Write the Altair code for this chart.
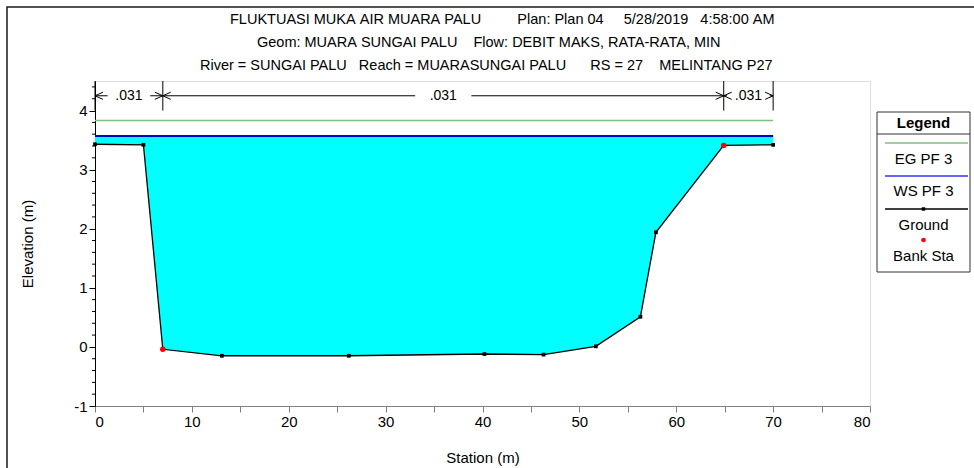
import altair as alt
import pandas as pd

# Cross-section RS 27, MELINTANG P27 (station / elevation in metres)
station = [0.0, 5.0, 7.0, 13.1, 26.2, 40.2, 46.3, 51.7, 56.3, 57.9, 64.9, 70.0]
ground = [3.43, 3.42, -0.04, -0.15, -0.15, -0.12, -0.13, 0.01, 0.51, 1.94, 3.41, 3.42]
bank_station = [7.0, 64.9]
bank_elev = [-0.04, 3.41]
ws_pf3 = 3.57   # water surface, PF 3
eg_pf3 = 3.83   # energy grade, PF 3

# Manning's n zones along the top of the section
n_breaks = [0.0, 7.0, 64.9, 70.0]
n_values = [".031", ".031", ".031"]
n_level = 4.25

title_lines = [
    "FLUKTUASI MUKA AIR MUARA PALU         Plan: Plan 04     5/28/2019   4:58:00 AM",
    "Geom: MUARA SUNGAI PALU    Flow: DEBIT MAKS, RATA-RATA, MIN",
    "River = SUNGAI PALU   Reach = MUARASUNGAI PALU      RS = 27    MELINTANG P27",
]
title_left = [135, 162, 105]   # left edge of each heading line, px from plot origin
legend_labels = ["EG PF 3", "WS PF 3", "Ground", "Bank Sta"]

FONT = "Liberation Sans"
FS = 15
W, H = 775, 325
PAD = {"left": 95, "top": 81, "right": 104, "bottom": 62}


def keep_spaces(s):
    return s.replace(" ", "\u00a0")


xs = alt.Scale(domain=[0, 80], nice=False, zero=False)
ys = alt.Scale(domain=[-1, 4.5], nice=False, zero=False)

sec = pd.DataFrame({"station": station, "ground": ground, "ws": ws_pf3})
banks = pd.DataFrame({"station": bank_station, "ground": bank_elev})
levels = pd.DataFrame({
    "x0": [station[0], station[0]], "x1": [station[-1], station[-1]],
    "y": [eg_pf3, ws_pf3], "c": ["eg", "ws"],
})
one = pd.DataFrame({"k": [0]})

x_axis = alt.Axis(
    values=list(range(0, 81, 5)),
    labelExpr="datum.value % 10 == 0 ? '' + datum.value : ''",
    tickSize=6, domainColor="#808080", tickColor="#808080",
    labelFontSize=FS, labelFont=FONT, labelColor="black", labelPadding=2,
    grid=False, title="Station (m)", titleFont=FONT, titleFontSize=FS,
    titleFontWeight="normal", titleColor="black",
    titleX=W / 2, titleY=51, titleBaseline="middle", titleAlign="center",
)
y_axis = alt.Axis(
    values=[-1, 0, 1, 2, 3, 4],
    labelExpr="'' + datum.value",
    tickSize=6, domainColor="black", tickColor="black",
    labelFontSize=FS, labelFont=FONT, labelColor="black", labelPadding=2,
    grid=False, title="Elevation (m)", titleFont=FONT, titleFontSize=FS,
    titleFontWeight="normal", titleColor="black",
    titleX=-68, titleY=H / 2, titleBaseline="middle", titleAlign="center",
)

# outer frame
frame = alt.Chart(one).mark_rect(fill=None, stroke="#1a1a1a", strokeWidth=1.5).encode(
    x=alt.value(-88), x2=alt.value(W + 200), y=alt.value(-74), y2=alt.value(H + 150)
)

# three-line heading above the plot
title_layers = []
for i, (t, left) in enumerate(zip(title_lines, title_left)):
    title_layers.append(alt.Chart(one).mark_text(
        text=keep_spaces(t), font=FONT, fontSize=14.5, color="black",
        baseline="middle", align="left",
    ).encode(x=alt.value(left), y=alt.value(-61 + 23 * i)))

water = alt.Chart(sec).mark_area(color="#00FFFF", opacity=1).encode(
    x=alt.X("station:Q", scale=xs, axis=x_axis),
    y=alt.Y("ground:Q", scale=ys, axis=y_axis),
    y2="ws:Q",
)

eg_line = alt.Chart(levels[levels.c == "eg"]).mark_rule(color="#7fbf7f", strokeWidth=1.5).encode(
    x=alt.X("x0:Q", scale=xs), x2="x1:Q", y=alt.Y("y:Q", scale=ys)
)
ws_line = alt.Chart(levels[levels.c == "ws"]).mark_rule(color="#0000d0", strokeWidth=2).encode(
    x=alt.X("x0:Q", scale=xs), x2="x1:Q", y=alt.Y("y:Q", scale=ys)
)

ground_line = alt.Chart(sec).mark_line(color="black", strokeWidth=1.3).encode(
    x=alt.X("station:Q", scale=xs), y=alt.Y("ground:Q", scale=ys)
)
ground_pts = alt.Chart(sec).mark_point(shape="square", filled=True, color="black", size=14, opacity=1).encode(
    x=alt.X("station:Q", scale=xs), y=alt.Y("ground:Q", scale=ys)
)
bank_pts = alt.Chart(banks).mark_point(shape="circle", filled=True, color="#ff0000", size=30, opacity=1).encode(
    x=alt.X("station:Q", scale=xs), y=alt.Y("ground:Q", scale=ys)
)

# minor ticks on the elevation axis
minor_y = pd.DataFrame({"v": [round(-1 + 0.2 * i, 1) for i in range(28) if i % 5 != 0]})
y_minor = alt.Chart(minor_y).mark_rule(color="black", strokeWidth=1).encode(
    y=alt.Y("v:Q", scale=ys), x=alt.value(-3), x2=alt.value(0)
)

# Manning's n zone markers
gap = 2.2
zones = pd.DataFrame({
    "a": n_breaks[:-1], "b": n_breaks[1:], "n": n_values,
})
zones["mid"] = (zones.a + zones.b) / 2
zones["gap"] = [gap, 2.9, gap]
seg_left = zones.assign(s=zones.a, e=(zones.mid - zones.gap).clip(lower=zones.a))
seg_right = zones.assign(s=(zones.mid + zones.gap).clip(upper=zones.b), e=zones.b)
segs = pd.concat([seg_left, seg_right])
segs["y"] = n_level

n_rules = alt.Chart(segs).mark_rule(color="black", strokeWidth=1).encode(
    x=alt.X("s:Q", scale=xs), x2="e:Q", y=alt.Y("y:Q", scale=ys)
)
breaks_df = pd.DataFrame({"x": n_breaks, "y0": 4.0, "y1": 4.5})
n_ticks = alt.Chart(breaks_df).mark_rule(color="black", strokeWidth=1).encode(
    x=alt.X("x:Q", scale=xs), y=alt.Y("y0:Q", scale=ys), y2="y1:Q"
)
n_text = alt.Chart(zones.assign(y=n_level)).mark_text(
    font=FONT, fontSize=14, color="black", baseline="middle", align="center"
).encode(x=alt.X("mid:Q", scale=xs), y=alt.Y("y:Q", scale=ys), text="n:N")

arrow_l = "M1,-0.45L0,0L1,0.45"
arrow_r = "M-1,-0.45L0,0L-1,0.45"
arr_l = alt.Chart(zones.assign(y=n_level)).mark_point(
    shape=arrow_l, size=256, filled=False, color="black", strokeWidth=1, opacity=1
).encode(x=alt.X("a:Q", scale=xs), y=alt.Y("y:Q", scale=ys))
arr_r = alt.Chart(zones.assign(y=n_level)).mark_point(
    shape=arrow_r, size=256, filled=False, color="black", strokeWidth=1, opacity=1
).encode(x=alt.X("b:Q", scale=xs), y=alt.Y("y:Q", scale=ys))

# legend box, drawn in pixel space to the right of the plot
LX0, LX1 = 782, 875
LY0, LY1 = 31, 191
lx_mid = (LX0 + LX1) / 2
leg = [
    alt.Chart(one).mark_rect(fill="white", stroke="#333333", strokeWidth=1).encode(
        x=alt.value(LX0), x2=alt.value(LX1), y=alt.value(LY0), y2=alt.value(LY1)),
    alt.Chart(one).mark_rule(color="#333333", strokeWidth=1).encode(
        x=alt.value(LX0), x2=alt.value(LX1), y=alt.value(LY0 + 22)),
    alt.Chart(one).mark_text(text="Legend", font=FONT, fontSize=FS, fontWeight="bold",
                             baseline="middle", color="black").encode(
        x=alt.value(lx_mid), y=alt.value(LY0 + 11)),
]
sym_y = [62, 95, 128, 159]
txt_y = [78, 110, 144, 175]
sym_colors = ["#7fbf7f", "#3333ff", "black", None]
for lab, sy, ty, col in zip(legend_labels, sym_y, txt_y, sym_colors):
    if col is not None:
        leg.append(alt.Chart(one).mark_rule(color=col, strokeWidth=1.3).encode(
            x=alt.value(LX0 + 8), x2=alt.value(LX1 - 2), y=alt.value(sy)))
    leg.append(alt.Chart(one).mark_text(text=keep_spaces(lab), font=FONT, fontSize=FS,
                                        baseline="middle", color="black").encode(
        x=alt.value(lx_mid), y=alt.value(ty)))
leg.append(alt.Chart(one).mark_point(shape="square", filled=True, color="black", size=12, opacity=1).encode(
    x=alt.value(lx_mid), y=alt.value(sym_y[2])))
leg.append(alt.Chart(one).mark_point(shape="circle", filled=True, color="red", size=22, opacity=1).encode(
    x=alt.value(lx_mid), y=alt.value(sym_y[3])))

chart = alt.layer(
    frame, water, eg_line, ws_line, ground_line, ground_pts, bank_pts, y_minor,
    n_rules, n_ticks, n_text, arr_l, arr_r, *title_layers, *leg,
).properties(
    width=W, height=H,
    autosize=alt.AutoSizeParams(type="none"),
    padding=PAD,
).configure_view(stroke=None).configure(background="white")

chart.save("out.html", embed_options={"renderer": "svg", "actions": False})
